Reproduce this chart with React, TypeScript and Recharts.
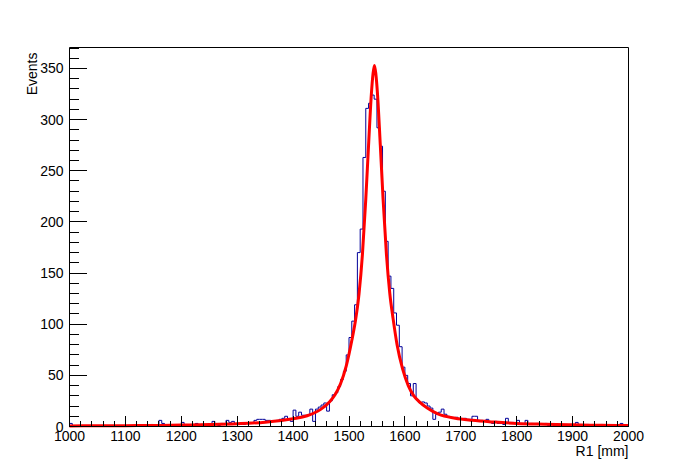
import { LineChart, Line, XAxis, YAxis, ReferenceLine } from "recharts";

// histogram: 200 bins of 5 mm from 1000 to 2000 (counts)
const BIN_START = 1000;
const BIN_WIDTH = 5;
const binCounts = [
  3, 1, 0, 1, 1, 0, 1, 1, 0, 1, 0, 1, 1, 0, 1, 1, 0, 1, 1, 0,
  1, 1, 0, 1, 1, 1, 0, 1, 1, 2, 1, 1, 6, 3, 1, 1, 1, 1, 0, 1,
  4, 1, 1, 2, 2, 3, 1, 2, 2, 1, 2, 5, 2, 1, 3, 2, 6, 4, 5, 2,
  3, 3, 2, 3, 4, 3, 6, 7, 7, 7, 6, 6, 5, 5, 6, 7, 8, 10, 7, 5,
  16, 10, 14, 11, 11, 11, 17, 5, 17, 19, 21, 23, 15, 25, 31, 33, 39, 46, 54, 70,
  87, 103, 119, 170, 193, 263, 311, 316, 324, 320, 292, 274, 230, 181, 147, 135, 111, 99, 78, 58,
  50, 42, 30, 42, 26, 23, 24, 23, 20, 18, 7, 12, 14, 17, 12, 10, 9, 8, 9, 7,
  7, 8, 7, 7, 10, 10, 6, 6, 5, 7, 4, 3, 5, 3, 3, 2, 8, 4, 4, 3,
  6, 3, 2, 6, 2, 3, 2, 3, 2, 2, 3, 1, 2, 1, 2, 1, 1, 2, 1, 1,
  2, 4, 1, 1, 1, 2, 0, 1, 1, 1, 2, 1, 1, 0, 1, 1, 1, 3, 1, 0,
];

// fit curve, read at these x positions
const fitX = [
  1000, 1050, 1100, 1150, 1200, 1250, 1300, 1350, 1400, 1425, 1450, 1465, 1475,
  1485, 1495, 1505, 1512, 1518, 1524, 1530, 1535, 1540, 1543, 1545.5, 1548,
  1551, 1556, 1561, 1567, 1573, 1579, 1586, 1596, 1606, 1616, 1626, 1640, 1660,
  1690, 1720, 1760, 1800, 1850, 1900, 1950, 2000,
];
const fitY = [
  0.6, 0.7, 0.8, 1.0, 1.4, 1.9, 2.7, 4.2, 7.5, 10.5, 17, 24, 31,
  42, 59, 84, 105, 130, 168, 222, 275, 325, 345, 353, 345,
  325, 275, 222, 168, 130, 105, 80, 56, 40, 30, 24, 18, 12,
  8, 6, 4.3, 3, 2.2, 1.6, 1.2, 0.9,
];

const xMajorTicks = [1000, 1100, 1200, 1300, 1400, 1500, 1600, 1700, 1800, 1900, 2000];
const yMajorTicks = [0, 50, 100, 150, 200, 250, 300, 350];
const Y_MAX = 370.5;

const xTicks: number[] = [];
for (let v = 1000; v <= 2000; v += 20) xTicks.push(v);
const yTicks: number[] = [];
for (let v = 0; v <= 370; v += 10) yTicks.push(v);

const histData = binCounts.map((c, i) => ({ x: BIN_START + i * BIN_WIDTH, y: c }));
histData.push({ x: 2000, y: binCounts[binCounts.length - 1] });
const fitData = fitX.map((x, i) => ({ x, y: fitY[i] }));

const FONT = "'Liberation Sans', Arial, sans-serif";

function XTick(props: any) {
  const { x, y, payload } = props;
  const v = payload.value as number;
  const major = xMajorTicks.includes(v);
  const px = Math.round(x - 0.5) + 0.5;
  return (
    <g>
      <line x1={px} x2={px} y1={y} y2={y - (major ? 11 : 5.5)} stroke="#000" shapeRendering="crispEdges" />
      {major && (
        <text x={x} y={y + 14.5} textAnchor="middle" fontSize={14} fontFamily={FONT} fill="#000">
          {v}
        </text>
      )}
    </g>
  );
}

function YTick(props: any) {
  const { x, y, payload } = props;
  const v = payload.value as number;
  const major = yMajorTicks.includes(v);
  const py = Math.round(y - 0.5) + 0.5;
  return (
    <g>
      <line x1={x} x2={x + (major ? 17 : 9)} y1={py} y2={py} stroke="#000" shapeRendering="crispEdges" />
      {major && (
        <text x={x - 6} y={y + 5} textAnchor="end" fontSize={14} fontFamily={FONT} fill="#000">
          {v}
        </text>
      )}
    </g>
  );
}

export default function App() {
  return (
    <div style={{ position: "absolute", left: 0, top: 0, background: "#fff" }}>
      <LineChart
        width={698}
        height={474}
        margin={{ top: 47.5, right: 69.5, bottom: 46.5, left: 68.5 }}
      >
        <XAxis
          dataKey="x"
          type="number"
          domain={[1000, 2000]}
          ticks={xTicks}
          interval={0}
          height={1}
          tickSize={0}
          tickMargin={0}
          tick={<XTick />}
          tickLine={false}
          axisLine={{ stroke: "#000" }}
          label={{
            content: (p: any) => {
              const vb = p.viewBox;
              return (
                <text x={vb.x + vb.width} y={vb.y + 29.5} textAnchor="end" fontSize={14} fontFamily={FONT} fill="#000">
                  R1 [mm]
                </text>
              );
            },
          }}
        />
        <YAxis
          dataKey="y"
          type="number"
          domain={[0, Y_MAX]}
          ticks={yTicks}
          interval={0}
          width={1}
          tickSize={0}
          tickMargin={0}
          tick={<YTick />}
          tickLine={false}
          axisLine={{ stroke: "#000" }}
          label={{
            content: () => (
              <text
                x={36.5}
                y={52.5}
                transform="rotate(-90 36.5 52.5)"
                textAnchor="end"
                fontSize={14}
                fontFamily={FONT}
                fill="#000"
              >
                Events
              </text>
            ),
          }}
        />
        <ReferenceLine y={Y_MAX} stroke="#000" />
        <ReferenceLine x={2000} stroke="#000" />
        <Line
          data={histData}
          dataKey="y"
          type="stepAfter"
          stroke="#000099"
          strokeWidth={1}
          dot={false}
          isAnimationActive={false}
        />
        <Line
          data={fitData}
          dataKey="y"
          type="monotone"
          stroke="#ff0000"
          strokeWidth={3}
          dot={false}
          isAnimationActive={false}
        />
      </LineChart>
    </div>
  );
}
